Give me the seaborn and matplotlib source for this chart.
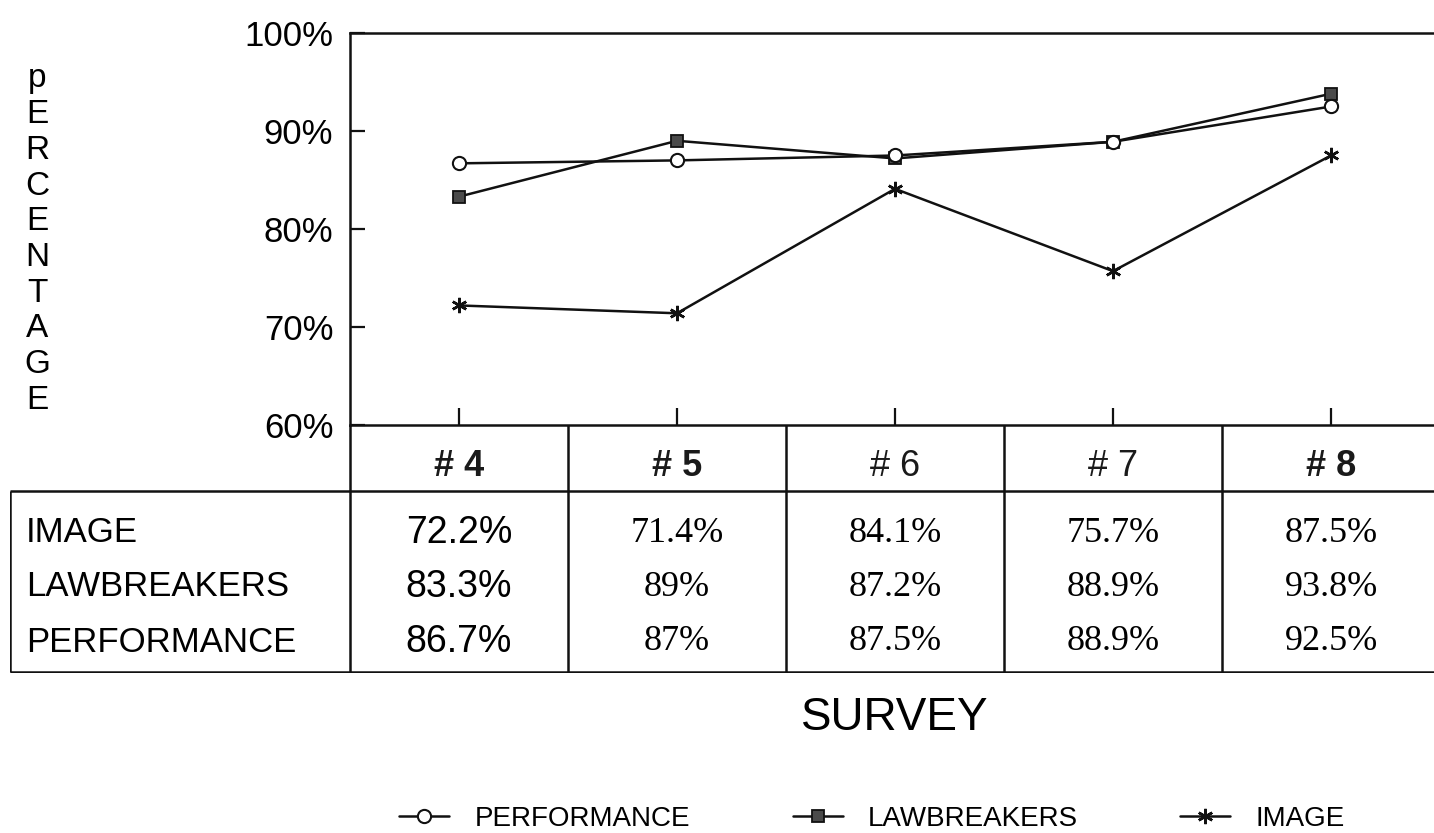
import numpy as np
import pandas as pd
import seaborn as sns
import matplotlib.pyplot as plt
from matplotlib.lines import Line2D
from matplotlib.ticker import FuncFormatter

# data
surveys = ["# 4", "# 5", "# 6", "# 7", "# 8"]
series_names = ["IMAGE", "LAWBREAKERS", "PERFORMANCE"]
image = [72.2, 71.4, 84.1, 75.7, 87.5]
lawbreakers = [83.3, 89.0, 87.2, 88.9, 93.8]
performance = [86.7, 87.0, 87.5, 88.9, 92.5]
table_text = [
    ["72.2%", "71.4%", "84.1%", "75.7%", "87.5%"],
    ["83.3%", "89%", "87.2%", "88.9%", "93.8%"],
    ["86.7%", "87%", "87.5%", "88.9%", "92.5%"],
]
y_ticks = [60, 70, 80, 90, 100]
y_title = "pERCENTAGE"
x_title = "SURVEY"

sns.set_theme(style="white")
plt.rcParams["font.family"] = ["Liberation Sans", "DejaVu Sans"]
plt.rcParams["text.color"] = "black"
plt.rcParams["ytick.labelcolor"] = "black"

W, H = 1434, 833
fig = plt.figure(figsize=(W / 100, H / 100), dpi=100)

def px(x0, y0, x1, y1):
    # figure rect from pixel box (top-left origin)
    return [x0 / W, 1 - y1 / H, (x1 - x0) / W, (y1 - y0) / H]

ax = fig.add_axes(px(350, 33, 1440, 425))

df = pd.DataFrame({
    "pos": np.tile(np.arange(len(surveys)) + 0.5, 3),
    "value": image + lawbreakers + performance,
    "series": np.repeat(series_names, len(surveys)),
})

ink = "#111111"
styles = {
    "IMAGE": dict(marker=(6, 2, 0), markersize=11, mfc=ink, mec=ink, mew=1.8),
    "LAWBREAKERS": dict(marker="s", markersize=8, mfc="#4a4a4a", mec=ink, mew=1.3),
    "PERFORMANCE": dict(marker="o", markersize=9.5, mfc="white", mec=ink, mew=1.5),
}
for name in series_names:
    sub = df[df["series"] == name]
    sns.lineplot(data=sub, x="pos", y="value", ax=ax, color=ink,
                 linewidth=1.8, estimator=None, **styles[name])

ax.set_xlim(0, len(surveys))
ax.set_ylim(60, 100)
ax.set_yticks(y_ticks)
ax.yaxis.set_major_formatter(FuncFormatter(lambda v, p: f"{v:.0f}%"))
ax.set_xticks(np.arange(len(surveys)) + 0.5)
ax.set_xticklabels([])
ax.tick_params(axis="y", direction="in", length=11, width=1.6, color=ink,
               labelsize=25, labelcolor="black", pad=12, left=True)
ax.tick_params(axis="x", direction="in", length=12, width=1.6, color=ink, bottom=True)
ax.set_xlabel("")
ax.set_ylabel("")
for s in ["left", "top", "bottom"]:
    ax.spines[s].set_color(ink)
    ax.spines[s].set_linewidth(1.8)
ax.spines["right"].set_visible(False)
ax.patch.set_alpha(0)

# table under the plot, same x scale as the plot
tab = fig.add_axes(px(10, 425, 1440, 673))
tab.set_xlim(-340 / 218, len(surveys))
tab.set_ylim(248, 0)
tab.axis("off")
lc = dict(color=ink, lw=1.8, solid_capstyle="butt")
x_left = -340 / 218
tab.plot([x_left, len(surveys)], [66, 66], **lc)
tab.plot([x_left, len(surveys)], [247, 247], **lc)
tab.plot([x_left, x_left], [66, 247], **lc)
for i in range(len(surveys)):
    tab.plot([i, i], [0, 247], **lc)

head_weights = ["bold", "bold", "normal", "normal", "bold"]
for i, lab in enumerate(surveys):
    tab.text(i + 0.5, 41, lab, ha="center", va="center", fontsize=26,
             fontweight=head_weights[i], color="#1a1a1a")

row_y = [108, 162, 217]
for r, name in enumerate(series_names):
    tab.text(x_left + 16 / 218, row_y[r], name, ha="left", va="center",
             fontsize=25, color="black")
    for i, txt in enumerate(table_text[r]):
        if i == 0:
            tab.text(i + 0.5, row_y[r], txt, ha="center", va="center",
                     fontsize=27, color="black")
        else:
            tab.text(i + 0.5, row_y[r], txt, ha="center", va="center",
                     fontsize=26, color="black", family="Liberation Serif")

# stacked y title
for k, ch in enumerate(y_title):
    fig.text(37 / W, 1 - (79 + k * 35.7) / H, ch, ha="center", va="center",
             fontsize=24, color="black")

fig.text(895 / W, 1 - 718 / H, x_title, ha="center", va="center", fontsize=33,
         color="black")

legend_order = ["PERFORMANCE", "LAWBREAKERS", "IMAGE"]
handles = [Line2D([], [], color=ink, lw=1.8, **styles[n]) for n in legend_order]
fig.legend(handles, legend_order, loc="center", bbox_to_anchor=(872 / W, 1 - 819 / H),
           ncol=3, frameon=False, fontsize=20, handlelength=1.8, handletextpad=0.9,
           columnspacing=3.7, borderpad=0)

fig.savefig("out.png", dpi=100, facecolor="white")
